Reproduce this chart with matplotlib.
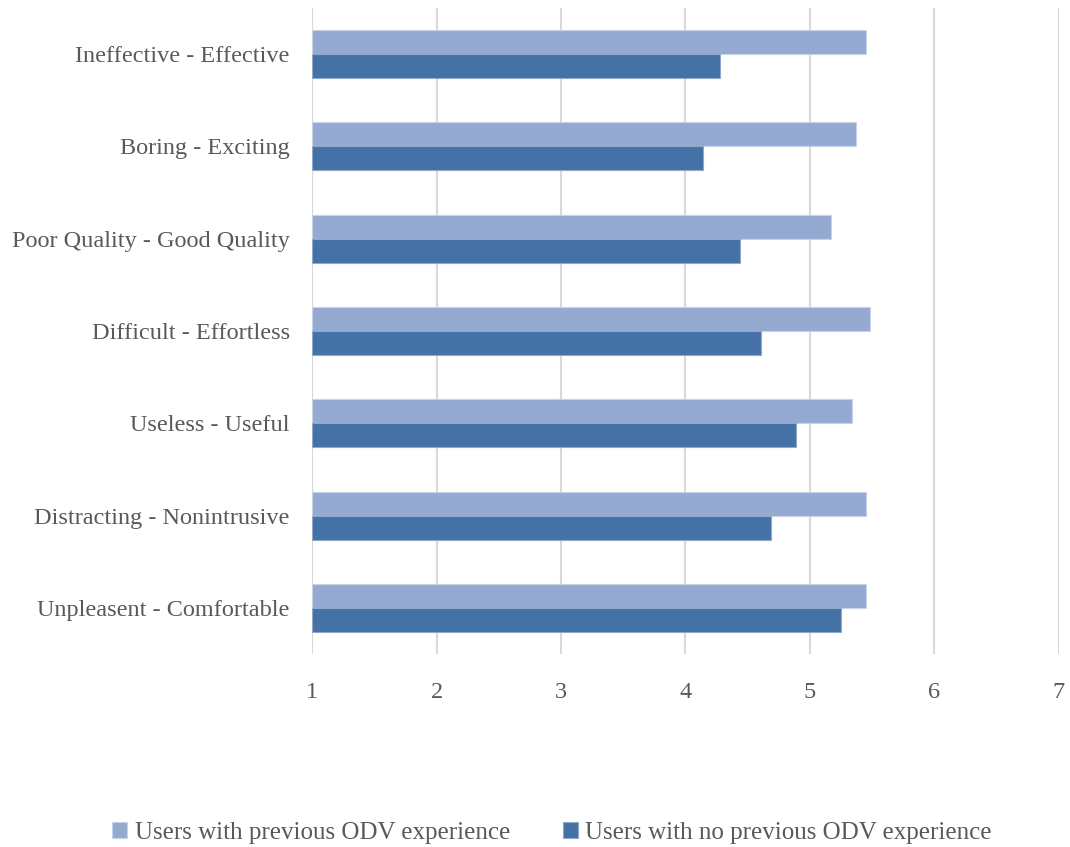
import matplotlib.pyplot as plt
import numpy as np

# ── Dados ─────────────────────────────────────────────────────────────────────
categorias = [
    "Unpleasent - Comfortable",
    "Distracting - Nonintrusive",
    "Useless - Useful",
    "Difficult - Effortless",
    "Poor Quality - Good Quality",
    "Boring - Exciting",
    "Ineffective - Effective",
]
com_experiencia = [5.45, 5.45, 5.34, 5.48, 5.17, 5.37, 5.45]
sem_experiencia = [5.25, 4.69, 4.89, 4.61, 4.44, 4.14, 4.28]
ticks_x = [1, 2, 3, 4, 5, 6, 7]

AZUL_CLARO = "#95AAD1"
AZUL_ESCURO = "#4472A7"
CINZA = "#595959"
GRADE = "#D9D9D9"

plt.rcParams["font.family"] = ["Liberation Serif", "DejaVu Serif"]

fig = plt.figure(figsize=(10.70, 8.47), dpi=100)
ax = fig.add_axes([0.2916, 0.2279, 0.6981, 0.7627])

y = np.arange(len(categorias))
h = 0.26
ax.barh(y + h / 2, [v - 1 for v in com_experiencia], left=1, height=h,
        color=AZUL_CLARO, edgecolor="#C9D3E8", linewidth=0.8,
        label="Users with previous ODV experience", zorder=3)
ax.barh(y - h / 2, [v - 1 for v in sem_experiencia], left=1, height=h,
        color=AZUL_ESCURO, edgecolor="#8FA7C8", linewidth=0.8,
        label="Users with no previous ODV experience", zorder=3)

ax.set_xlim(1, 7)
ax.set_ylim(-0.5, len(categorias) - 0.5)
ax.set_xticks(ticks_x)
ax.set_yticks(y)
ax.set_yticklabels(categorias)
ax.grid(axis="x", color=GRADE, linewidth=1.5, zorder=0)
for s in ax.spines.values():
    s.set_visible(False)
ax.tick_params(axis="both", length=0, colors=CINZA, labelsize=17.5)
ax.tick_params(axis="x", pad=20)
ax.tick_params(axis="y", pad=16)

ax.legend(loc="center", bbox_to_anchor=(0.516, 0.017),
          bbox_transform=fig.transFigure, ncol=2, frameon=False,
          fontsize=18, handlelength=0.6, handleheight=0.6,
          handletextpad=0.3, columnspacing=2.1, labelcolor=CINZA)

fig.savefig("out.png", dpi=100)
